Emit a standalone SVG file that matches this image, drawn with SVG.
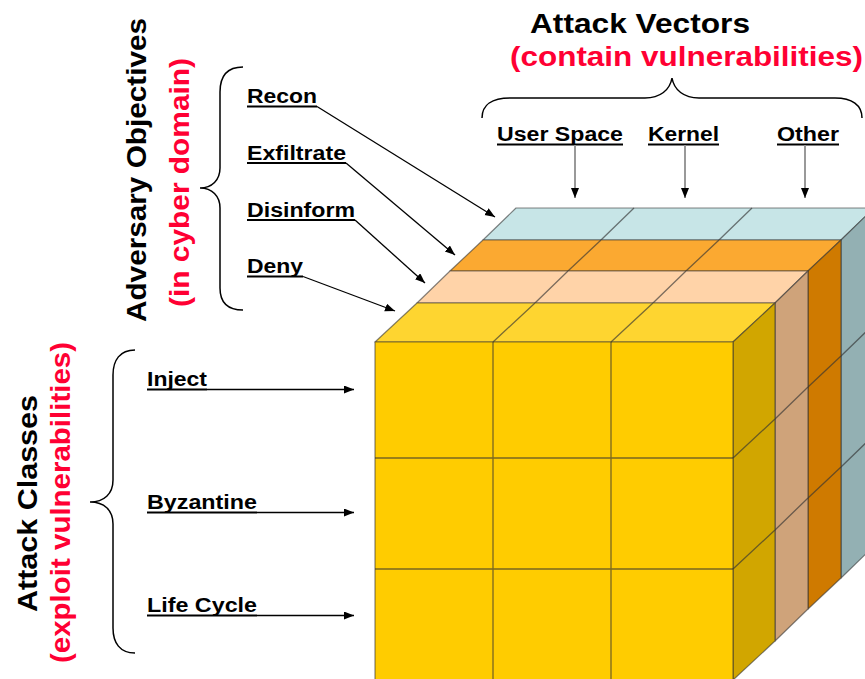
<svg xmlns="http://www.w3.org/2000/svg" width="865" height="679" viewBox="0 0 865 679">
  <style>
    .head { font-family: "Liberation Sans", Arial, sans-serif; font-weight: bold; font-size: 28px; fill: #000; }
    .red { fill: #FF0033; }
    .lbl { font-family: "Liberation Sans", Arial, sans-serif; font-weight: bold; font-size: 20px; fill: #000; }
    .ul { stroke: #000; stroke-width: 2; }
    .brace { fill: none; stroke: #000; stroke-width: 1.5; }
    .arrow { fill: none; stroke: #000; stroke-width: 1.3; marker-end: url(#tip); }
    .drop { fill: none; stroke: #999; stroke-width: 2; marker-end: url(#tip); }
    .face { stroke: #333; stroke-opacity: 0.6; stroke-width: 1.2; stroke-linejoin: round; }
    .grid { fill: none; stroke: #333; stroke-opacity: 0.65; stroke-width: 1.3; }
  </style>
  <defs>
    <marker id="tip" markerUnits="userSpaceOnUse" markerWidth="11" markerHeight="9" refX="10" refY="4" orient="auto">
      <path d="M0,0 L10,4 L0,8 z" fill="#000"/>
    </marker>
  </defs>
  <rect width="865" height="679" fill="#fff"/>

  <!-- the cube: four depth layers, drawn back to front -->
  <g id="cube">
    <!-- blue layer (back) -->
    <g id="layer-blue">
      <polygon class="face" fill="#C7E5E7" points="483,240 841,240 874,208 516,208"/>
      <polygon class="face" fill="#93B0B3" points="841,240 874,208 874,546 841,578"/>
      <path class="grid" d="M601,240 L634,208 M719,240 L752,208 M841,356 L874,324 M841,467 L874,435"/>
    </g>
    <!-- orange layer -->
    <g id="layer-orange">
      <polygon class="face" fill="#FBA931" points="450,271 808,271 841,240 483,240"/>
      <polygon class="face" fill="#CF7A00" points="808,271 841,240 841,578 808,609"/>
      <path class="grid" d="M568,271 L601,240 M686,271 L719,240 M808,387 L841,356 M808,498 L841,467"/>
    </g>
    <!-- peach layer -->
    <g id="layer-peach">
      <polygon class="face" fill="#FFD3A8" points="417,303 775,303 808,271 450,271"/>
      <polygon class="face" fill="#CFA37A" points="775,303 808,271 808,609 775,641"/>
      <path class="grid" d="M535,303 L568,271 M653,303 L686,271 M775,419 L808,387 M775,530 L808,498"/>
    </g>
    <!-- yellow layer (front) -->
    <g id="layer-yellow">
      <polygon class="face" fill="#FED530" points="375,342 733,342 775,303 417,303"/>
      <polygon class="face" fill="#D1A600" points="733,342 775,303 775,641 733,680"/>
      <rect class="face" fill="#FFCC00" x="375" y="342" width="358" height="338"/>
      <path class="grid" d="M493,342 L535,303 M611,342 L653,303 M733,458 L775,419 M733,569 L775,530"/>
      <path class="grid" d="M493,342 V680 M611,342 V680 M375,458 H733 M375,569 H733"/>
    </g>
  </g>

  <!-- axis headings -->
  <g id="vectors-heading">
    <text class="head" x="530" y="33" textLength="220" lengthAdjust="spacingAndGlyphs">Attack Vectors</text>
    <text class="head red" x="510" y="66" textLength="353" lengthAdjust="spacingAndGlyphs">(contain vulnerabilities)</text>
    <path class="brace" d="M482,118 C482,105 492,98 510,98 L645,98 C660,98 670,90 672,78 C674,90 684,98 699,98 L835,98 C852,98 862,105 862,118"/>
  </g>
  <g id="objectives-heading">
    <text class="head" transform="translate(146,322) rotate(-90)" textLength="304" lengthAdjust="spacingAndGlyphs">Adversary Objectives</text>
    <text class="head red" transform="translate(189,307) rotate(-90)" textLength="249" lengthAdjust="spacingAndGlyphs">(in cyber domain)</text>
    <path class="brace" d="M243,67 C228,67 220,75 220,92 L220,168 C220,180 212,188 200,188 C212,188 220,196 220,208 L220,288 C220,303 228,310 243,310"/>
  </g>
  <g id="classes-heading">
    <text class="head" transform="translate(37,612) rotate(-90)" textLength="217" lengthAdjust="spacingAndGlyphs">Attack Classes</text>
    <text class="head red" transform="translate(70,663) rotate(-90)" textLength="321" lengthAdjust="spacingAndGlyphs">(exploit vulnerabilities)</text>
    <path class="brace" d="M135,350 C120,350 113,360 113,375 L113,480 C113,494 104,502 90,502 C104,502 113,510 113,524 L113,628 C113,643 120,653 135,653"/>
  </g>

  <!-- attack vector labels -->
  <g id="user-space"><text class="lbl" x="497" y="141" textLength="126" lengthAdjust="spacingAndGlyphs">User Space</text><line class="ul" x1="497" y1="144.5" x2="623" y2="144.5"/></g>
  <g id="kernel"><text class="lbl" x="648" y="141" textLength="71" lengthAdjust="spacingAndGlyphs">Kernel</text><line class="ul" x1="648" y1="144.5" x2="719" y2="144.5"/></g>
  <g id="other"><text class="lbl" x="777" y="141" textLength="62" lengthAdjust="spacingAndGlyphs">Other</text><line class="ul" x1="777" y1="144.5" x2="839" y2="144.5"/></g>

  <!-- adversary objective labels -->
  <g id="recon"><text class="lbl" x="247" y="103" textLength="70" lengthAdjust="spacingAndGlyphs">Recon</text><line class="ul" x1="247" y1="106.5" x2="317" y2="106.5"/></g>
  <g id="exfiltrate"><text class="lbl" x="247" y="160" textLength="99" lengthAdjust="spacingAndGlyphs">Exfiltrate</text><line class="ul" x1="247" y1="163" x2="346" y2="163"/></g>
  <g id="disinform"><text class="lbl" x="247" y="216.5" textLength="108" lengthAdjust="spacingAndGlyphs">Disinform</text><line class="ul" x1="247" y1="220" x2="355" y2="220"/></g>
  <g id="deny"><text class="lbl" x="247" y="273" textLength="56" lengthAdjust="spacingAndGlyphs">Deny</text><line class="ul" x1="247" y1="276.5" x2="303" y2="276.5"/></g>

  <!-- attack class labels -->
  <g id="inject"><text class="lbl" x="147" y="386" textLength="60" lengthAdjust="spacingAndGlyphs">Inject</text><line class="ul" x1="147" y1="389.5" x2="207" y2="389.5"/></g>
  <g id="byzantine"><text class="lbl" x="147" y="509" textLength="110" lengthAdjust="spacingAndGlyphs">Byzantine</text><line class="ul" x1="147" y1="512.5" x2="257" y2="512.5"/></g>
  <g id="life-cycle"><text class="lbl" x="147" y="612" textLength="110" lengthAdjust="spacingAndGlyphs">Life Cycle</text><line class="ul" x1="147" y1="615.5" x2="257" y2="615.5"/></g>

  <!-- connectors -->
  <g id="connectors">
    <line class="drop" x1="575" y1="145" x2="575" y2="198"/>
    <line class="drop" x1="685" y1="145" x2="685" y2="198"/>
    <line class="drop" x1="805" y1="145" x2="805" y2="198"/>
    <line class="arrow" x1="317" y1="106.5" x2="495" y2="217"/>
    <line class="arrow" x1="346" y1="163" x2="455" y2="255"/>
    <line class="arrow" x1="355" y1="220" x2="425" y2="283"/>
    <line class="arrow" x1="303" y1="276.5" x2="395" y2="311"/>
    <line class="arrow" x1="207" y1="389.5" x2="354" y2="389.5"/>
    <line class="arrow" x1="257" y1="512.5" x2="354" y2="512.5"/>
    <line class="arrow" x1="257" y1="615.5" x2="354" y2="615.5"/>
  </g>
</svg>
